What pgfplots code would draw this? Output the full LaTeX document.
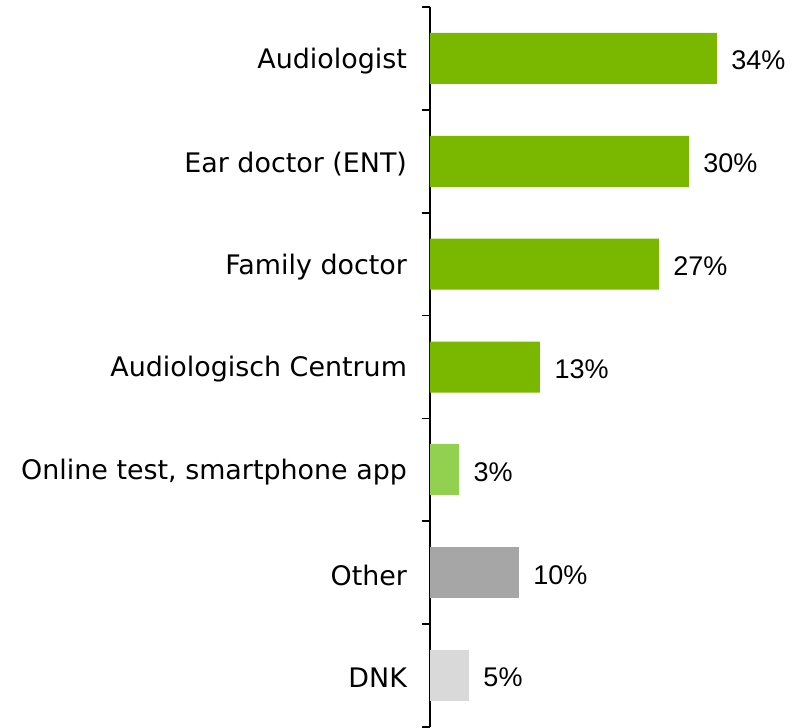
\documentclass[border=0pt]{standalone}
\usepackage{pgfplots}
\pgfplotsset{compat=1.18}
\usepackage{fontspec}
\setmainfont{DejaVu Sans}
\newfontfamily\valfont{Liberation Sans}
\definecolor{cgreen}{HTML}{7AB800}
\definecolor{clgreen}{HTML}{92D050}
\definecolor{cgray}{HTML}{A6A6A6}
\definecolor{clgray}{HTML}{D9D9D9}
\begin{document}
\begin{tikzpicture}
\begin{axis}[
  name=ax,
  scale only axis,
  width=370pt, height=720pt,
  xbar, bar shift=0pt, bar width=51pt,
  xmin=0, xmax=43.4,
  ymin=-0.5, ymax=6.5,
  y dir=reverse,
  hide x axis,
  axis y line*=left,
  y axis line style={line width=1.6pt},
  ytick={0,...,6},
  yticklabels={Audiologist,Ear doctor (ENT),Family doctor,Audiologisch Centrum,{Online test, smartphone app},Other,DNK},
  yticklabel style={font=\fontsize{26.9}{30}\selectfont, xshift=-19.5pt, yshift=-2.5pt},
  major tick length=0pt,
  minor ytick={-0.5,0.5,...,6.5},
  minor tick length=8pt,
  tick align=outside,
  minor tick style={line width=1.6pt, black},
  clip=false,
  point meta=explicit symbolic,
  nodes near coords,
  every node near coord/.append style={font=\valfont\fontsize{27}{30}\selectfont, anchor=west, xshift=11pt, yshift=-2pt, text=black},
]
\addplot[fill=cgreen, draw=none] coordinates {(33.65,0) [34\%] (30.36,1) [30\%] (26.85,2) [27\%] (12.9,3) [13\%]};
\addplot[fill=clgreen, draw=none] coordinates {(3.4,4) [3\%]};
\addplot[fill=cgray, draw=none] coordinates {(10.43,5) [10\%]};
\addplot[fill=clgray, draw=none] coordinates {(4.57,6) [5\%]};
\end{axis}
\path[use as bounding box] ([xshift=-430pt]ax.south west) rectangle ([yshift=7pt]ax.north east);
\end{tikzpicture}
\end{document}
